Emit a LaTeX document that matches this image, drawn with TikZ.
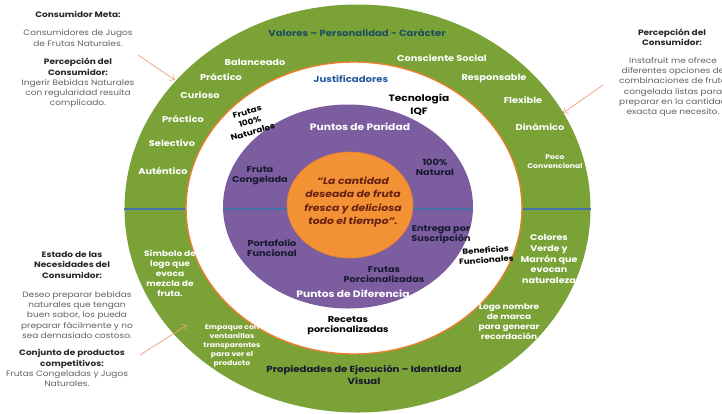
\documentclass[tikz,border=0pt]{standalone}
\usepackage{fontspec}
\setmainfont{Poppins}[FakeStretch=1.15]
\usetikzlibrary{shapes.geometric,arrows.meta}

\definecolor{ringgreen}{RGB}{122,162,54}
\definecolor{ringpurple}{RGB}{124,94,160}
\definecolor{coreorange}{RGB}{242,146,52}
\definecolor{rimorange}{RGB}{232,128,48}
\definecolor{divblue}{RGB}{70,112,168}
\definecolor{pointerc}{RGB}{236,160,120}
\definecolor{tealtext}{RGB}{28,78,96}
\definecolor{bluetext}{RGB}{40,88,158}
\definecolor{darktext}{RGB}{24,24,48}
\definecolor{quotetext}{RGB}{104,32,18}
\definecolor{graytext}{RGB}{96,96,96}

\tikzset{
  band/.style={ellipse, inner sep=0pt},
  divider/.style={draw=divblue, line width=2pt},
  pointer/.style={draw=pointerc, line width=0.7pt, -{Straight Barb[length=4pt,width=7pt]}},
  trait/.style={text=white, font=\bfseries\fontsize{8.5}{9}\selectfont, align=center, inner sep=0pt},
  smalltrait/.style={text=white, font=\bfseries\fontsize{6.7}{9}\selectfont, align=center, inner sep=0pt},
  ringtitle/.style={font=\bfseries\fontsize{8.8}{12.5}\selectfont, align=center, inner sep=0pt},
  inlabel/.style={text=darktext, font=\bfseries\fontsize{8.5}{10}\selectfont, align=center, inner sep=0pt},
  whitelabel/.style={text=white, font=\bfseries\fontsize{9.3}{10}\selectfont, align=center, inner sep=0pt},
  sidehead/.style={text=black!85, font=\bfseries\fontsize{7.8}{10.5}\selectfont, align=center, inner sep=0pt},
  sidetext/.style={text=graytext, font=\fontsize{7.8}{10.2}\selectfont, align=center, inner sep=0pt},
}

\begin{document}
\begin{tikzpicture}[x=1pt,y=-1pt]
\useasboundingbox (0,0) rectangle (722,413);

% outer ring: values and visual identity
\node[band, fill=ringgreen, minimum width=466, minimum height=408] (outer) at (357.5,208.5) {};
\draw[divider] (outer.west) -- (outer.east);

% justification ring
\node[band, fill=white, draw=rimorange, line width=1.4pt, minimum width=336, minimum height=292] (just) at (354,208) {};

% parity / difference ring
\node[band, fill=ringpurple, minimum width=250, minimum height=204] (parity) at (348,206.5) {};
\draw[divider] (parity.west |- outer.center) -- (parity.east |- outer.center);

% core promise
\node[band, fill=coreorange, draw=rimorange, line width=0.6pt, minimum width=126, minimum height=106] (core) at (350,205) {};
\node[text=quotetext, font=\bfseries\itshape\fontsize{9.4}{13.3}\selectfont, align=center, inner sep=0pt] (promise) at (353,202)
  {“La cantidad\\deseada de fruta\\fresca y deliciosa\\todo el tiempo”.};

% outer ring titles
\node[ringtitle, text=tealtext] (values) at (357,33) {Valores – Personalidad - Carácter};
\node[ringtitle, text=darktext] (visual) at (364,375) {Propiedades de Ejecución – Identidad\\Visual};

% personality traits
\node[trait] (t1) at (255,62) {Balanceado};
\node[trait] (t2) at (221,77) {Práctico};
\node[trait] (t3) at (200,95) {Curioso};
\node[trait] (t4) at (183,119) {Práctico};
\node[trait] (t5) at (172,143) {Selectivo};
\node[trait] (t6) at (163,171) {Auténtico};
\node[trait] (t7) at (442,58) {Consciente Social};
\node[trait] (t8) at (494,78) {Responsable};
\node[trait] (t9) at (523,100) {Flexible};
\node[trait] (t10) at (540,127) {Dinámico};
\node[smalltrait] (t11) at (555,162) {Poco\\Convencional};

% visual identity properties
\node[trait, font=\bfseries\fontsize{7.8}{10}\selectfont] (v1) at (170,273) {Símbolo de\\logo que\\evoca\\mezcla de\\fruta.};
\node[smalltrait] (v2) at (232,346) {Empaque con\\ventanillas\\transparentes\\para ver el\\producto};
\node[trait, font=\bfseries\fontsize{8.3}{10.8}\selectfont] (v3) at (549,259) {Colores\\Verde y\\Marrón que\\evocan\\naturaleza};
\node[trait, font=\bfseries\fontsize{7.8}{10}\selectfont] (v4) at (509,322) {Logo nombre\\de marca\\para generar\\recordación};

% justifications
\node[ringtitle, text=bluetext] (justtitle) at (351,79) {Justificadores};
\node[inlabel, text=black, font=\bfseries\fontsize{7.8}{10.4}\selectfont, rotate=16] (j1) at (250,122) {Frutas\\100\%\\Naturales};
\node[inlabel, text=black, font=\bfseries\fontsize{9.2}{12.5}\selectfont] (j2) at (419,104.5) {Tecnología\\IQF};
\node[inlabel, text=black, font=\bfseries\fontsize{7.6}{10}\selectfont, rotate=4] (j3) at (486,255) {Beneficios\\Funcionales};
\node[inlabel, text=black] (j4) at (348,326) {Recetas\\porcionalizadas};

% points of parity and difference
\node[whitelabel] (ptitle) at (360,127) {Puntos de Paridad};
\node[whitelabel] (dtitle) at (353,294) {Puntos de Diferencia};
\node[inlabel] (p1) at (260,176) {Fruta\\Congelada};
\node[inlabel] (p2) at (435,167) {100\%\\Natural};
\node[inlabel] (d1) at (272,248) {Portafolio\\Funcional};
\node[inlabel] (d2) at (441,235) {Entrega por\\Suscripción};
\node[inlabel] (d3) at (384,274.5) {Frutas\\Porcionalizadas};

% consumer notes, left
\node[sidehead] (metahead) at (78,14) {Consumidor Meta:};
\node[sidetext] (metatext) at (78,38) {Consumidores de Jugos\\de Frutas Naturales.};
\node[sidetext, align=center] (perceptL) at (78,83)
  {\textbf{\textcolor{black!85}{Percepción del}}\\\textbf{\textcolor{black!85}{Consumidor:}}\\Ingerir Bebidas Naturales\\con regularidad resulta\\complicado.};
\node[sidehead] (needhead) at (72,265) {Estado de las\\Necesidades del\\Consumidor:};
\node[sidetext] (needtext) at (77,315) {Deseo preparar bebidas\\naturales que tengan\\buen sabor, los pueda\\preparar fácilmente y no\\sea demasiado costoso.};
\node[sidehead] (comphead) at (72,359) {Conjunto de productos\\competitivos:};
\node[sidetext] (comptext) at (67,379) {Frutas Congeladas y Jugos\\Naturales.};

% consumer notes, right
\node[sidehead] (perceptRhead) at (672,37.5) {Percepción del\\Consumidor:};
\node[sidetext] (perceptRtext) at (673,87) {Instafruit me ofrece\\diferentes opciones de\\combinaciones de fruta\\congelada listas para\\preparar en la cantidad\\exacta que necesito.};

% pointers into the rings
\coordinate (p1s) at (138,55);
\coordinate (p1e) at (175,80);
\coordinate (p2s) at (603,85);
\coordinate (p2e) at (563,113);
\coordinate (p3s) at (140,355);
\coordinate (p3e) at (187,325);
\draw[pointer] (p1s) -- (p1e);
\draw[pointer] (p2s) -- (p2e);
\draw[pointer] (p3s) -- (p3e);
\end{tikzpicture}
\end{document}
